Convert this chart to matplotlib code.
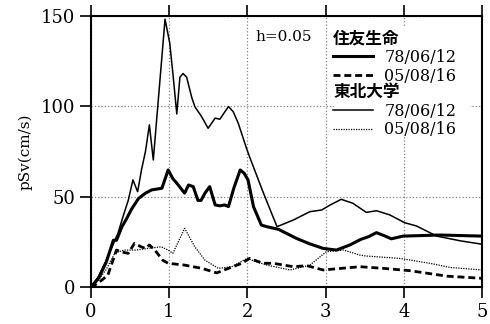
import matplotlib
matplotlib.use("Agg")
import matplotlib.pyplot as plt
from matplotlib.font_manager import FontProperties
from matplotlib.patches import Rectangle

# period (s) and pSv (cm/s)
sumitomo_78_x = [0, 0.1, 0.2, 0.29, 0.33, 0.40, 0.46, 0.52, 0.61, 0.70, 0.78, 0.91, 0.99, 1.05,
                 1.10, 1.20, 1.25, 1.31, 1.37, 1.41, 1.46, 1.52, 1.59, 1.65, 1.71, 1.76, 1.83,
                 1.91, 1.96, 2.01, 2.08, 2.18, 2.25, 2.40, 2.63, 2.80, 2.97, 3.14, 3.31, 3.45,
                 3.55, 3.65, 3.75, 3.84, 3.99, 4.46, 5.0]
sumitomo_78_y = [0, 5, 14, 26, 26, 33.5, 38, 43, 49, 52, 53.8, 54.7, 64.8, 60,
                 57.5, 52, 56.5, 55.6, 48, 48, 52, 55.6, 45.5, 45, 45.5, 44.6, 55,
                 64.8, 63, 59.3, 44.5, 34.4, 33.5, 32, 27, 24, 21.5, 20.6, 23.4, 26.5,
                 28, 30.2, 28.5, 26.8, 28.3, 28.9, 28.3]

sumitomo_05_x = [0, 0.1, 0.22, 0.33, 0.40, 0.48, 0.56, 0.64, 0.70, 0.75, 0.82, 0.92, 0.99,
                 1.2, 1.42, 1.61, 1.76, 1.93, 2.03, 2.20, 2.33, 2.59, 2.76, 2.97, 3.20, 3.44,
                 3.74, 4.08, 4.55, 5.0]
sumitomo_05_y = [0, 2.5, 6.8, 20.6, 19.5, 18.8, 24.3, 22.5, 21.5, 23.4, 20.6, 15, 13.3,
                 12.3, 10.5, 8, 10.5, 13.3, 16, 13.3, 13.3, 11.4, 12, 9.6, 10.5, 11.4,
                 10.5, 9.2, 6.2, 5]

tohoku_78_x = [0, 0.1, 0.2, 0.30, 0.35, 0.42, 0.48, 0.54, 0.60, 0.65, 0.70, 0.75, 0.80,
               0.95, 1.01, 1.055, 1.10, 1.14, 1.18, 1.226, 1.29, 1.33, 1.42, 1.50, 1.59,
               1.65, 1.70, 1.76, 1.82, 1.885, 1.99, 2.03, 2.20, 2.38, 2.59, 2.80, 2.95,
               3.06, 3.20, 3.35, 3.52, 3.65, 3.82, 4.01, 4.16, 4.42, 4.72, 5.0]
tohoku_78_y = [0, 6, 15, 25, 30, 40, 48, 59.3, 52.8, 65, 75, 89.7, 70.3,
               148, 134.8, 116, 95.7, 116, 118, 116, 105, 99.8, 94, 87.8, 93.4,
               92.8, 96, 99.8, 97, 90.6, 76.8, 72, 52.8, 33.5, 37.2, 41.8, 42.7,
               45.5, 48.6, 46.4, 41.4, 42.3, 40, 35.7, 33.9, 28.3, 25.7, 23.8]

tohoku_05_x = [0, 0.1, 0.2, 0.31, 0.43, 0.58, 0.73, 0.90, 0.99, 1.05, 1.20, 1.33, 1.46,
               1.63, 1.80, 2.0, 2.12, 2.25, 2.55, 2.80, 3.01, 3.23, 3.44, 3.52, 3.95,
               4.33, 4.59, 5.0]
tohoku_05_y = [0, 4, 10, 19, 20.6, 20.6, 21.5, 22.4, 20.6, 18.8, 32.6, 22.4, 15,
               10.5, 11.4, 16, 14.1, 12.3, 9.6, 12.3, 19.7, 20.6, 17.8, 17.3, 16,
               13.3, 11, 9.6]

date_78 = '78/06/12'
date_05 = '05/08/16'

plt.rcParams['font.family'] = ['DejaVu Serif']

fig = plt.figure(figsize=(4.9, 3.24), dpi=100)
ax = fig.add_axes([0.185, 0.113, 0.799, 0.839])

l1, = ax.plot(sumitomo_78_x, sumitomo_78_y, color='black', lw=2.2)
l2, = ax.plot(sumitomo_05_x, sumitomo_05_y, color='black', lw=2.0, dashes=(2.5, 1.4))
l3, = ax.plot(tohoku_78_x, tohoku_78_y, color='black', lw=1.1)
l4, = ax.plot(tohoku_05_x, tohoku_05_y, color='black', lw=0.9, dashes=(1, 1))

ax.set_xlim(0, 5)
ax.set_ylim(0, 150)
ax.set_xticks([0, 1, 2, 3, 4, 5])
ax.set_yticks([0, 50, 100, 150])
ax.grid(True, linestyle=':', color='gray', lw=0.9)
ax.tick_params(direction='out', length=8, width=1.2, top=True, labelsize=13, pad=3)
for s in ax.spines.values():
    s.set_linewidth(1.5)
ax.set_ylabel('pSv(cm/s)', fontsize=11, labelpad=6)

ax.text(0.42, 0.92, 'h=0.05', transform=ax.transAxes, fontsize=11, ha='left', va='center')

# white backing behind the legend block hides the grid there
ax.add_patch(Rectangle((0.622, 0.56), 0.348, 0.397, transform=ax.transAxes,
                       facecolor='white', edgecolor='none', zorder=1.8))

head = FontProperties(family='Noto Sans CJK JP', weight='bold', size=12)
common = dict(loc='upper left', alignment='left', fontsize=11.5, title_fontproperties=head,
              handlelength=2.5, handletextpad=0.7, labelspacing=0.1, borderpad=0.1,
              borderaxespad=0, frameon=False)
leg1 = ax.legend([l1, l2], [date_78, date_05], title='住友生命',
                 bbox_to_anchor=(0.615, 0.955), **common)
ax.add_artist(leg1)
ax.legend([l3, l4], [date_78, date_05], title='東北大学',
          bbox_to_anchor=(0.615, 0.758), **common)

fig.savefig('out.png', dpi=100)
